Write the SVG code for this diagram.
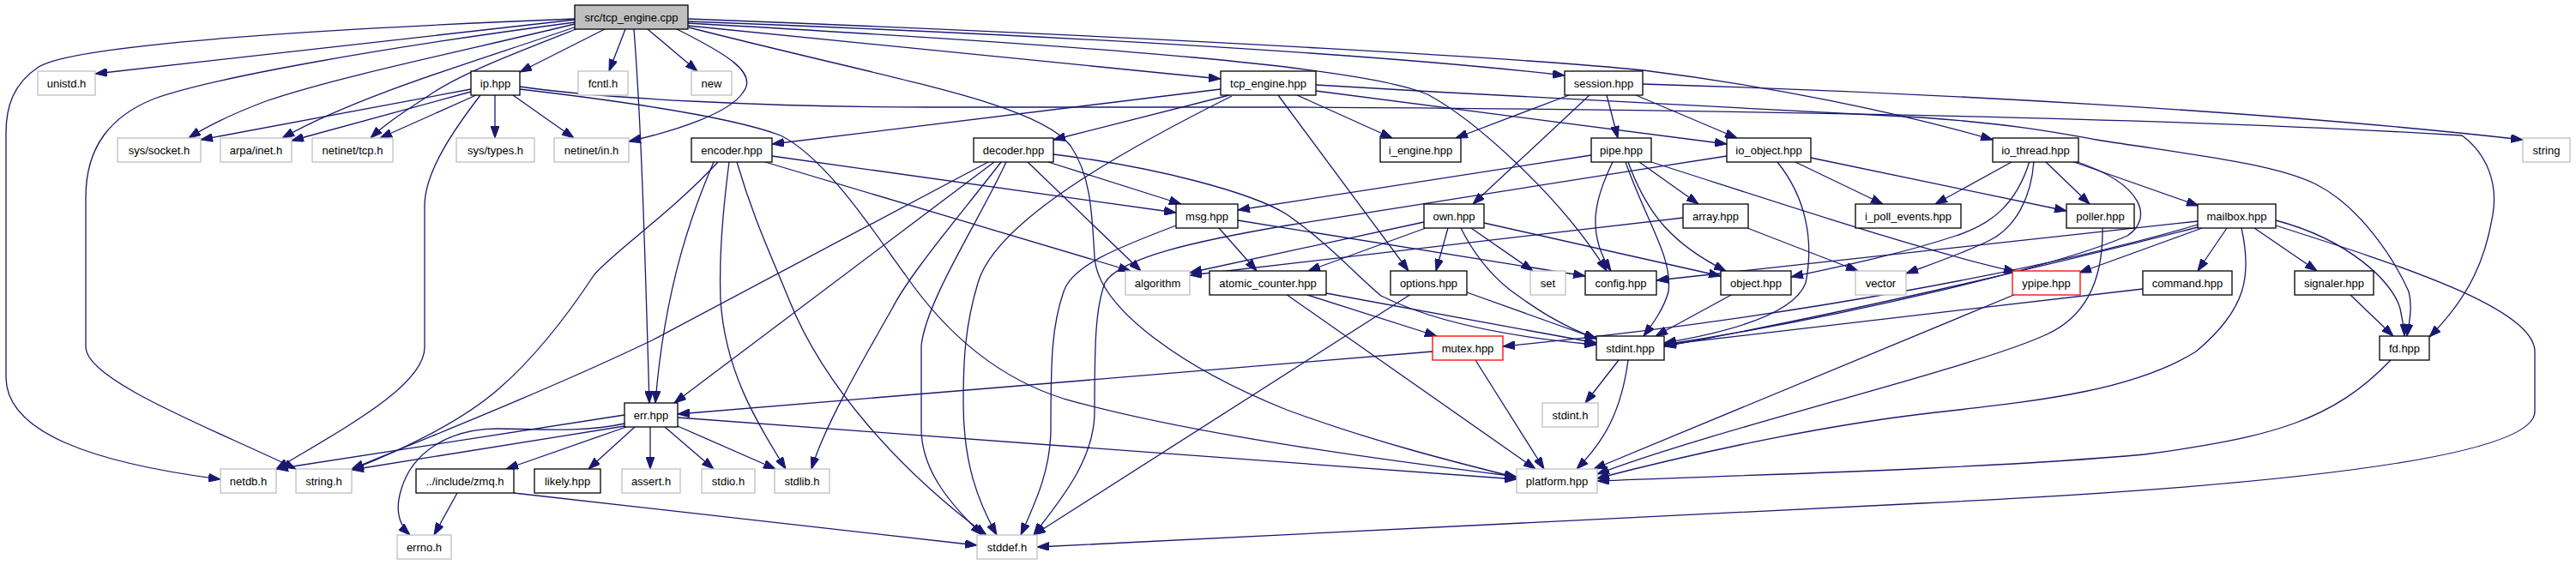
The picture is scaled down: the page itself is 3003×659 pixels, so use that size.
<svg xmlns="http://www.w3.org/2000/svg" width="3003" height="659" viewBox="0 0 3003 659">
<style>
.e{fill:none;stroke:#191970;stroke-width:1.3;marker-end:url(#ah)}
.n rect{fill:#fff;stroke:#000;stroke-width:1.3}
.g rect{stroke:#bfbfbf}
.r rect{stroke:#ff0000}
.root rect{fill:#bfbfbf}
text{font-family:"Liberation Sans",Arial,sans-serif;font-size:13px;text-anchor:middle;fill:#000}
</style>
<defs>
<marker id="ah" viewBox="0 0 14 10" refX="14" refY="5" markerWidth="14" markerHeight="10" orient="auto" markerUnits="userSpaceOnUse"><path d="M0,0 L14,5 L0,10 z" fill="#191970" stroke="#191970" stroke-width="1"/></marker>
</defs>
<rect width="3003" height="659" fill="#fff"/>
<g id="edges">
<path class="e" d="M670,22 C420,32 90,50 45,78 C15,98 7,125 7,155 L7,440 C7,505 110,540 257,559"/>
<path class="e" d="M670,23 L111,86"/>
<path class="e" d="M670,26 C450,55 250,90 180,115 C130,135 100,170 100,230 L100,405 C100,445 260,505 345,547"/>
<path class="e" d="M670,28 C560,55 390,90 310,118 C265,135 240,148 220,161"/>
<path class="e" d="M672,31 C560,70 420,110 329,161"/>
<path class="e" d="M674,33 C600,62 540,85 505,108 C475,128 452,142 432,161"/>
<path class="e" d="M705,34 L606,84"/>
<path class="e" d="M729,34 L710,83"/>
<path class="e" d="M739,34 C748,150 752,300 757,470"/>
<path class="e" d="M755,34 L813,83"/>
<path class="e" d="M789,34 C845,62 885,85 866,108 C850,132 790,152 733,165"/>
<path class="e" d="M803,32 C1050,95 1210,120 1248,170 C1272,205 1273,250 1276,300 C1280,360 1380,430 1500,478 C1600,515 1700,540 1768,557"/>
<path class="e" d="M802,30 L1423,92"/>
<path class="e" d="M802,25 C1200,40 1600,62 1824,88"/>
<path class="e" d="M802,27 C1300,55 1590,78 1664,110 C1720,140 1820,230 1873,316"/>
<path class="e" d="M802,22 C1400,45 1800,70 1916,82 C2060,100 2210,130 2323,163"/>
<path class="e" d="M549,104 L234,163"/>
<path class="e" d="M549,107 L340,164"/>
<path class="e" d="M555,111 L443,161"/>
<path class="e" d="M560,111 C530,150 495,200 495,240 L495,405 C495,450 400,500 322,547"/>
<path class="e" d="M577,111 L577,161"/>
<path class="e" d="M598,111 L669,161"/>
<path class="e" d="M606,101 C700,115 900,125 1080,125 L1500,125 C1900,127 2500,135 2870,158 C2900,180 2912,215 2906,250 C2898,300 2880,345 2832,393"/>
<path class="e" d="M606,104 C700,115 850,135 910,158 C965,185 1025,280 1055,320 C1100,385 1160,440 1240,465 C1380,505 1600,535 1768,556"/>
<path class="e" d="M1423,104 L900,168"/>
<path class="e" d="M1433,111 L1228,163"/>
<path class="e" d="M1436,112 C1300,180 1160,260 1140,330 C1125,380 1123,420 1123,470 C1123,540 1140,585 1162,624"/>
<path class="e" d="M1490,111 L1642,316"/>
<path class="e" d="M1512,111 L1623,161"/>
<path class="e" d="M1534,106 L2013,168"/>
<path class="e" d="M1534,99 C1800,115 2100,130 2240,137 C2350,145 2400,155 2444,163 C2550,180 2650,190 2700,215 C2750,240 2790,300 2808,340 C2813,360 2808,378 2806,392"/>
<path class="e" d="M1829,111 L1697,161"/>
<path class="e" d="M1853,111 L1717,238"/>
<path class="e" d="M1873,111 L1886,161"/>
<path class="e" d="M1907,111 L2025,161"/>
<path class="e" d="M1915,98 C2250,108 2650,130 2941,163"/>
<path class="e" d="M900,182 L1371,248"/>
<path class="e" d="M892,189 L1318,316"/>
<path class="e" d="M832,189 C810,240 775,330 764,470"/>
<path class="e" d="M837,189 C780,250 720,290 693,320 C660,370 620,420 582,453 C540,490 480,520 410,548"/>
<path class="e" d="M850,189 C842,250 838,300 840,350 C845,430 880,490 916,547"/>
<path class="e" d="M859,189 C880,260 900,300 920,350 C960,450 1050,550 1150,624"/>
<path class="e" d="M1222,189 L1377,238"/>
<path class="e" d="M1198,189 L1330,316"/>
<path class="e" d="M1152,189 C1000,270 850,350 760,397 C650,450 500,510 410,547"/>
<path class="e" d="M1159,189 L786,470"/>
<path class="e" d="M1167,189 C1120,250 1060,320 1040,360 C1000,430 960,500 946,547"/>
<path class="e" d="M1173,189 C1140,260 1080,350 1074,403 L1074,500 C1074,550 1110,590 1145,624"/>
<path class="e" d="M1228,180 C1350,195 1460,225 1500,250 C1550,285 1580,320 1610,345 C1680,380 1780,395 1861,402"/>
<path class="e" d="M1421,266 L1465,316"/>
<path class="e" d="M1371,263 C1300,290 1250,310 1240,340 C1226,380 1225,420 1225,500 C1225,550 1205,590 1190,624"/>
<path class="e" d="M1443,257 C1600,282 1750,305 1848,322"/>
<path class="e" d="M1855,181 L1443,245"/>
<path class="e" d="M1880,189 C1860,230 1848,270 1878,316"/>
<path class="e" d="M1895,189 C1920,260 1950,300 1945,340 C1940,360 1925,380 1916,392"/>
<path class="e" d="M1898,189 C1920,250 1950,285 2012,316"/>
<path class="e" d="M1911,189 L1980,238"/>
<path class="e" d="M1925,189 C2100,245 2250,295 2350,317"/>
<path class="e" d="M1660,259 L1387,318"/>
<path class="e" d="M1662,266 L1525,316"/>
<path class="e" d="M1688,266 L1674,316"/>
<path class="e" d="M1715,266 L1787,316"/>
<path class="e" d="M1703,266 C1720,300 1740,322 1760,338 C1790,360 1820,380 1861,395"/>
<path class="e" d="M1730,260 L2006,322"/>
<path class="e" d="M1962,254 L1387,321"/>
<path class="e" d="M2037,266 L2166,316"/>
<path class="e" d="M2013,182 C1800,215 1550,255 1500,263 C1400,280 1305,300 1288,330 C1277,360 1276,400 1276,480 C1276,540 1230,590 1205,624"/>
<path class="e" d="M2072,189 C2105,230 2115,280 2105,330 C2090,370 2000,390 1940,400"/>
<path class="e" d="M2093,189 L2195,238"/>
<path class="e" d="M2111,184 L2409,246"/>
<path class="e" d="M2345,189 L2256,238"/>
<path class="e" d="M2385,189 L2436,238"/>
<path class="e" d="M2415,188 L2563,240"/>
<path class="e" d="M2371,188 C2368,230 2350,265 2320,280 C2290,295 2260,305 2222,319"/>
<path class="e" d="M2366,188 C2350,240 2320,262 2280,275 C2220,295 2150,310 2088,323"/>
<path class="e" d="M2419,188 C2500,215 2510,255 2480,275 C2400,310 2150,370 1940,402"/>
<path class="e" d="M2562,258 L1931,327"/>
<path class="e" d="M2567,266 L2424,318"/>
<path class="e" d="M2596,266 L2562,316"/>
<path class="e" d="M2628,266 L2701,316"/>
<path class="e" d="M2653,257 C2740,280 2790,330 2798,360 C2801,375 2803,385 2803,392"/>
<path class="e" d="M2653,263 C2800,310 2955,360 2955,410 L2955,480 C2955,530 2700,565 2240,587 C1800,608 1400,630 1209,638"/>
<path class="e" d="M2613,266 C2625,320 2620,360 2560,410 C2480,460 2350,470 2240,483 C2100,500 1950,535 1862,558"/>
<path class="e" d="M2562,262 C2400,310 2100,370 1752,404"/>
<path class="e" d="M2562,265 C2350,320 2100,375 1940,404"/>
<path class="e" d="M2451,266 C2452,330 2430,370 2386,390 C2300,430 2000,500 1862,553"/>
<path class="e" d="M2350,343 L1858,547"/>
<path class="e" d="M2498,337 L1940,402"/>
<path class="e" d="M2739,343 L2790,392"/>
<path class="e" d="M2787,420 C2720,490 2650,510 2500,530 C2300,548 2000,555 1862,561"/>
<path class="e" d="M1521,343 L1675,392"/>
<path class="e" d="M1499,343 L1790,547"/>
<path class="e" d="M1546,342 L1861,400"/>
<path class="e" d="M1645,343 L1205,624"/>
<path class="e" d="M1710,341 L1861,395"/>
<path class="e" d="M2020,343 L1930,392"/>
<path class="e" d="M1670,410 L790,483"/>
<path class="e" d="M1720,420 L1800,547"/>
<path class="e" d="M1887,420 L1848,470"/>
<path class="e" d="M1898,420 C1890,480 1870,515 1838,547"/>
<path class="e" d="M728,484 L322,547"/>
<path class="e" d="M728,494 C680,505 620,500 580,500 C520,500 480,530 468,570 C460,595 465,612 478,624"/>
<path class="e" d="M730,498 L590,547"/>
<path class="e" d="M740,498 L686,547"/>
<path class="e" d="M758,498 L758,547"/>
<path class="e" d="M775,498 L832,547"/>
<path class="e" d="M790,497 L904,547"/>
<path class="e" d="M790,487 L1768,559"/>
<path class="e" d="M728,497 L410,548"/>
<path class="e" d="M533,575 L506,624"/>
<path class="e" d="M599,575 L1139,636"/>
</g>
<g id="node_root" class="n root"><rect x="670" y="6" width="132" height="28"/><text x="736" y="24.5">src/tcp_engine.cpp</text></g>
<g id="node_unistd" class="n g"><rect x="44" y="83" width="67" height="28"/><text x="77.5" y="101.5">unistd.h</text></g>
<g id="node_ip" class="n"><rect x="549" y="83" width="57" height="28"/><text x="577.5" y="101.5">ip.hpp</text></g>
<g id="node_fcntl" class="n g"><rect x="674" y="83" width="58" height="28"/><text x="703" y="101.5">fcntl.h</text></g>
<g id="node_new" class="n g"><rect x="806" y="83" width="47" height="28"/><text x="829.5" y="101.5">new</text></g>
<g id="node_tcp_engine_hpp" class="n"><rect x="1423" y="83" width="111" height="28"/><text x="1478.5" y="101.5">tcp_engine.hpp</text></g>
<g id="node_session" class="n"><rect x="1824" y="83" width="91" height="28"/><text x="1869.5" y="101.5">session.hpp</text></g>
<g id="node_sys_socket" class="n g"><rect x="137" y="161" width="97" height="28"/><text x="185.5" y="179.5">sys/socket.h</text></g>
<g id="node_arpa_inet" class="n g"><rect x="257" y="161" width="83" height="28"/><text x="298.5" y="179.5">arpa/inet.h</text></g>
<g id="node_netinet_tcp" class="n g"><rect x="364" y="161" width="94" height="28"/><text x="411" y="179.5">netinet/tcp.h</text></g>
<g id="node_sys_types" class="n g"><rect x="532" y="161" width="91" height="28"/><text x="577.5" y="179.5">sys/types.h</text></g>
<g id="node_netinet_in" class="n g"><rect x="646" y="161" width="87" height="28"/><text x="689.5" y="179.5">netinet/in.h</text></g>
<g id="node_encoder" class="n"><rect x="806" y="161" width="94" height="28"/><text x="853" y="179.5">encoder.hpp</text></g>
<g id="node_decoder" class="n"><rect x="1135" y="161" width="93" height="28"/><text x="1181.5" y="179.5">decoder.hpp</text></g>
<g id="node_i_engine" class="n"><rect x="1609" y="161" width="94" height="28"/><text x="1656" y="179.5">i_engine.hpp</text></g>
<g id="node_pipe" class="n"><rect x="1855" y="161" width="70" height="28"/><text x="1890" y="179.5">pipe.hpp</text></g>
<g id="node_io_object" class="n"><rect x="2013" y="161" width="98" height="28"/><text x="2062" y="179.5">io_object.hpp</text></g>
<g id="node_io_thread" class="n"><rect x="2323" y="161" width="100" height="28"/><text x="2373" y="179.5">io_thread.hpp</text></g>
<g id="node_string" class="n g"><rect x="2941" y="161" width="55" height="28"/><text x="2968.5" y="179.5">string</text></g>
<g id="node_msg" class="n"><rect x="1371" y="238" width="72" height="28"/><text x="1407" y="256.5">msg.hpp</text></g>
<g id="node_own" class="n"><rect x="1660" y="238" width="70" height="28"/><text x="1695" y="256.5">own.hpp</text></g>
<g id="node_array" class="n"><rect x="1962" y="238" width="76" height="28"/><text x="2000" y="256.5">array.hpp</text></g>
<g id="node_i_poll_events" class="n"><rect x="2163" y="238" width="123" height="28"/><text x="2224.5" y="256.5">i_poll_events.hpp</text></g>
<g id="node_poller" class="n"><rect x="2409" y="238" width="79" height="28"/><text x="2448.5" y="256.5">poller.hpp</text></g>
<g id="node_mailbox" class="n"><rect x="2562" y="238" width="91" height="28"/><text x="2607.5" y="256.5">mailbox.hpp</text></g>
<g id="node_algorithm" class="n g"><rect x="1312" y="316" width="75" height="28"/><text x="1349.5" y="334.5">algorithm</text></g>
<g id="node_atomic_counter" class="n"><rect x="1410" y="316" width="136" height="28"/><text x="1478" y="334.5">atomic_counter.hpp</text></g>
<g id="node_options" class="n"><rect x="1621" y="316" width="89" height="28"/><text x="1665.5" y="334.5">options.hpp</text></g>
<g id="node_set" class="n g"><rect x="1784" y="316" width="41" height="28"/><text x="1804.5" y="334.5">set</text></g>
<g id="node_config" class="n"><rect x="1848" y="316" width="83" height="28"/><text x="1889.5" y="334.5">config.hpp</text></g>
<g id="node_object" class="n"><rect x="2006" y="316" width="82" height="28"/><text x="2047" y="334.5">object.hpp</text></g>
<g id="node_vector" class="n g"><rect x="2163" y="316" width="59" height="28"/><text x="2192.5" y="334.5">vector</text></g>
<g id="node_ypipe" class="n r"><rect x="2346" y="316" width="79" height="28"/><text x="2385.5" y="334.5">ypipe.hpp</text></g>
<g id="node_command" class="n"><rect x="2498" y="316" width="104" height="28"/><text x="2550" y="334.5">command.hpp</text></g>
<g id="node_signaler" class="n"><rect x="2675" y="316" width="92" height="28"/><text x="2721" y="334.5">signaler.hpp</text></g>
<g id="node_mutex" class="n r"><rect x="1670" y="392" width="82" height="28"/><text x="1711" y="410.5">mutex.hpp</text></g>
<g id="node_stdint_hpp" class="n"><rect x="1861" y="392" width="79" height="28"/><text x="1900.5" y="410.5">stdint.hpp</text></g>
<g id="node_fd" class="n"><rect x="2774" y="392" width="58" height="28"/><text x="2803" y="410.5">fd.hpp</text></g>
<g id="node_err" class="n"><rect x="728" y="470" width="62" height="28"/><text x="759" y="488.5">err.hpp</text></g>
<g id="node_stdint_h" class="n g"><rect x="1798" y="470" width="65" height="28"/><text x="1830.5" y="488.5">stdint.h</text></g>
<g id="node_netdb" class="n g"><rect x="257" y="547" width="65" height="28"/><text x="289.5" y="565.5">netdb.h</text></g>
<g id="node_string_h" class="n g"><rect x="345" y="547" width="65" height="28"/><text x="377.5" y="565.5">string.h</text></g>
<g id="node_zmq" class="n"><rect x="485" y="547" width="114" height="28"/><text x="542" y="565.5">../include/zmq.h</text></g>
<g id="node_likely" class="n"><rect x="623" y="547" width="77" height="28"/><text x="661.5" y="565.5">likely.hpp</text></g>
<g id="node_assert" class="n g"><rect x="725" y="547" width="68" height="28"/><text x="759" y="565.5">assert.h</text></g>
<g id="node_stdio" class="n g"><rect x="818" y="547" width="62" height="28"/><text x="849" y="565.5">stdio.h</text></g>
<g id="node_stdlib" class="n g"><rect x="903" y="547" width="64" height="28"/><text x="935" y="565.5">stdlib.h</text></g>
<g id="node_platform" class="n g"><rect x="1768" y="547" width="94" height="28"/><text x="1815" y="565.5">platform.hpp</text></g>
<g id="node_errno" class="n g"><rect x="463" y="624" width="63" height="28"/><text x="494.5" y="642.5">errno.h</text></g>
<g id="node_stddef" class="n g"><rect x="1139" y="624" width="70" height="28"/><text x="1174" y="642.5">stddef.h</text></g>
</svg>
